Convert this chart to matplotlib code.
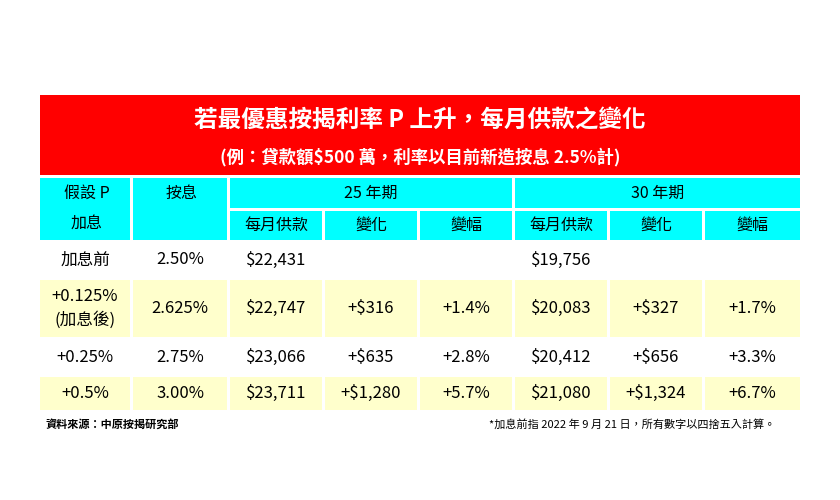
import matplotlib.pyplot as plt
from matplotlib.patches import Rectangle

plt.rcParams['font.family'] = ['Noto Sans CJK TC', 'DejaVu Sans']

title = '若最優惠按揭利率 P 上升，每月供款之變化'
subtitle = '(例：貸款額$500 萬，利率以目前新造按息 2.5%計)'
group_labels = ['25 年期', '30 年期']
sub_headers = ['每月供款', '變化', '變幅', '每月供款', '變化', '變幅']
hike = ['加息前', '+0.125%\n(加息後)', '+0.25%', '+0.5%']
rate = ['2.50%', '2.625%', '2.75%', '3.00%']
pay25 = ['$22,431', '$22,747', '$23,066', '$23,711']
chg25 = ['', '+$316', '+$635', '+$1,280']
pct25 = ['', '+1.4%', '+2.8%', '+5.7%']
pay30 = ['$19,756', '$20,083', '$20,412', '$21,080']
chg30 = ['', '+$327', '+$656', '+$1,324']
pct30 = ['', '+1.7%', '+3.3%', '+6.7%']
source = '資料來源：中原按揭研究部'
note = '*加息前指 2022 年 9 月 21 日，所有數字以四捨五入計算。'

fig = plt.figure(figsize=(8.4, 5.0), dpi=100)
ax = fig.add_axes([0, 0, 1, 1])
ax.set_xlim(0, 840)
ax.set_ylim(500, 0)
ax.axis('off')

cols = [40, 133, 230, 325, 420, 515, 610, 705, 800]
gap = 3
RED, CYAN, YEL = '#ff0000', '#00ffff', '#ffffcc'

def cell(x0, x1, y0, y1, color, text='', size=11.5):
    ax.add_patch(Rectangle((x0, y0), x1 - x0 - gap, y1 - y0 - gap, color=color, lw=0))
    if text:
        ax.text((x0 + x1 - gap) / 2, (y0 + y1 - gap) / 2, text, ha='center', va='center',
                fontsize=size)

# title block
ax.add_patch(Rectangle((40, 95), 760, 80, color=RED, lw=0))
ax.text(420, 120, title, ha='center', va='center', fontsize=17, color='white', fontweight='bold')
ax.text(420, 157, subtitle, ha='center', va='center', fontsize=12.5, color='white', fontweight='bold')

# header
h0, h1, h2 = 178, 211, 243
cell(cols[0], cols[1], h0, h2, CYAN)
ax.text((cols[0] + cols[1]) / 2, 193, '假設 P', ha='center', va='center', fontsize=11.5)
ax.text((cols[0] + cols[1]) / 2, 223, '加息', ha='center', va='center', fontsize=11.5)
cell(cols[1], cols[2], h0, h2, CYAN)
ax.text((cols[1] + cols[2]) / 2, 193, '按息', ha='center', va='center', fontsize=11.5)
for g, lab in enumerate(group_labels):
    cell(cols[2 + 3 * g], cols[5 + 3 * g] + (gap if g == 1 else 0), h0, h1, CYAN, lab)
for i, lab in enumerate(sub_headers):
    cell(cols[2 + i], cols[3 + i] + (gap if i == 5 else 0), h1, h2, CYAN, lab)

# body
row_y = [243, 280, 340, 377, 413]
row_bg = ['white', YEL, 'white', YEL]
for r in range(4):
    vals = [hike[r], rate[r], pay25[r], chg25[r], pct25[r], pay30[r], chg30[r], pct30[r]]
    for c, v in enumerate(vals):
        x1 = cols[c + 1] + (gap if c == 7 else 0)
        cell(cols[c], x1, row_y[r], row_y[r + 1], row_bg[r])
        xc = (cols[c] + x1 - gap) / 2
        if c in (2, 5):
            xc = cols[c] + 46
        ax.text(xc, (row_y[r] + row_y[r + 1] - gap) / 2, v, ha='center', va='center',
                fontsize=12, linespacing=1.5)

ax.text(45, 424, source, ha='left', va='center', fontsize=8, fontweight='bold')
ax.text(775, 424, note, ha='right', va='center', fontsize=8)

fig.savefig('out.png', dpi=100)
